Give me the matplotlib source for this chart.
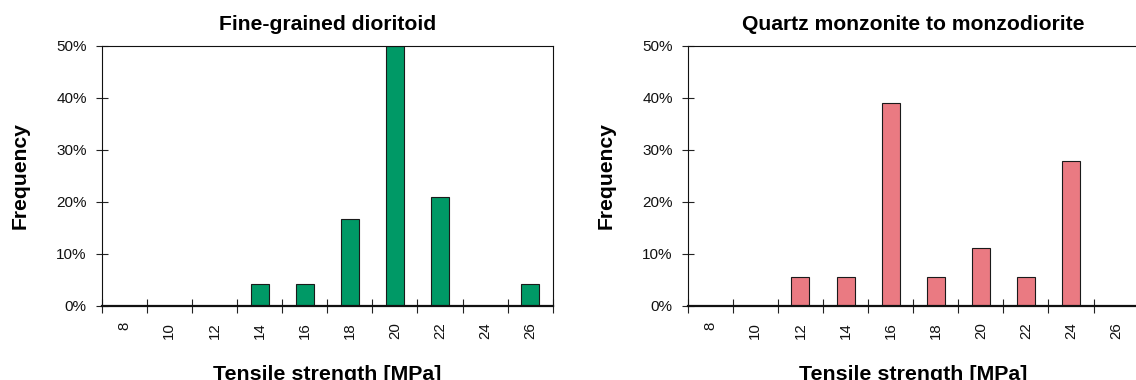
import matplotlib
matplotlib.use("Agg")
import matplotlib.pyplot as plt
import numpy as np

# ---- data ----
categories = ["8", "10", "12", "14", "16", "18", "20", "22", "24", "26"]
dioritoid_pct = [0, 0, 0, 4.17, 4.17, 16.67, 50.0, 20.83, 0, 4.17]
monzonite_pct = [0, 0, 5.56, 5.56, 38.89, 5.56, 11.11, 5.56, 27.78, 0]
titles = ["Fine-grained dioritoid", "Quartz monzonite to monzodiorite"]
y_ticks_pct = [0, 10, 20, 30, 40, 50]
x_label = "Tensile strength [MPa]"
y_label = "Frequency"

plt.rcParams['font.family'] = ['Liberation Sans', 'DejaVu Sans']

W, H = 1136, 380
fig = plt.figure(figsize=(W / 100, H / 100), dpi=100)

panels = [
    (101.7, dioritoid_pct, "#009966", titles[0]),
    (687.7, monzonite_pct, "#EA7A82", titles[1]),
]

x = np.arange(len(categories))
for left_px, vals, color, title in panels:
    ax = fig.add_axes([left_px / W, (H - 305.5) / H, 451 / W, 260 / H])
    ax.bar(x, vals, width=0.4, color=color, edgecolor="#1a1a1a",
           linewidth=0.8, zorder=2)
    ax.set_xlim(-0.5, len(categories) - 0.5)
    ax.set_ylim(0, 50)

    # x: boundary ticks (major) and centered labels (minor)
    ax.set_xticks(np.arange(len(categories) + 1) - 0.5)
    ax.set_xticklabels([])
    ax.set_xticks(x, minor=True)
    ax.set_xticklabels(categories, minor=True)
    ax.tick_params(axis='x', which='major', direction='inout', length=10,
                   width=0.8, color="#222222", labelbottom=False)
    ax.tick_params(axis='x', which='minor', length=0, pad=12,
                   labelsize=10.8, labelrotation=90, labelcolor="#111111")

    ax.set_yticks(y_ticks_pct)
    ax.set_yticklabels([f"{v}%" for v in y_ticks_pct])
    ax.tick_params(axis='y', direction='inout', length=8, width=0.8,
                   color="#222222", pad=6.8, labelsize=11,
                   labelcolor="#111111")

    for side in ["left", "top", "right"]:
        ax.spines[side].set_linewidth(0.8)
        ax.spines[side].set_color("#111111")
    ax.spines["bottom"].set_linewidth(1.6)
    ax.spines["bottom"].set_color("#111111")
    ax.spines["bottom"].set_zorder(3)

    ax.set_title(title, fontsize=15.2, fontweight='bold', pad=11)
    ax.set_xlabel(x_label, fontsize=15.4, fontweight='bold', labelpad=18.5)
    ax.set_ylabel(y_label, fontsize=15.2, fontweight='bold', labelpad=19)

fig.savefig("out.png", dpi=100)
